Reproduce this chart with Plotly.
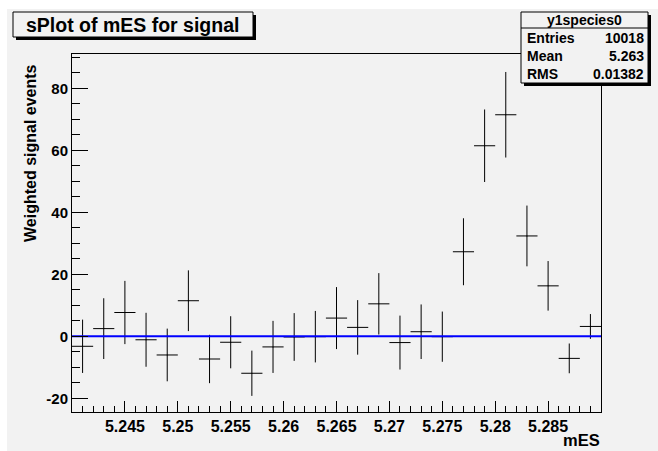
import plotly.graph_objects as go

# ---- data ----
mES_centers = [5.241, 5.243, 5.245, 5.247, 5.249, 5.251, 5.253, 5.255, 5.257, 5.259,
               5.261, 5.263, 5.265, 5.267, 5.269, 5.271, 5.273, 5.275, 5.277, 5.279,
               5.281, 5.283, 5.285, 5.287, 5.289]
weighted_signal = [-3.2, 2.5, 7.7, -1.1, -6.0, 11.5, -7.3, -1.9, -11.9, -3.4,
                   -0.2, -0.1, 5.9, 2.9, 10.5, -2.0, 1.5, -0.1, 27.3, 61.5,
                   71.5, 32.4, 16.3, -7.1, 3.2]
signal_errors = [8.6, 9.8, 10.2, 8.7, 8.5, 9.8, 7.8, 8.4, 7.3, 8.4,
                 7.7, 8.3, 10.0, 8.8, 9.9, 8.7, 8.8, 8.1, 10.8, 11.7,
                 13.8, 9.8, 8.0, 4.8, 4.0]
bin_width = 0.002
x_range = [5.24, 5.29]
y_range = [-24.4, 91.1]
x_tickvals = [5.245, 5.25, 5.255, 5.26, 5.265, 5.27, 5.275, 5.28, 5.285]
x_ticktext = ["5.245", "5.25", "5.255", "5.26", "5.265", "5.27", "5.275", "5.28", "5.285"]
y_tickvals = [-20, 0, 20, 40, 60, 80]
y_ticktext = ["-20", "0", "20", "40", "60", "80"]
fit_x = [5.24, 5.29]
fit_y = [0.0, 0.0]
stats_name = "y1species0"
stats_labels = ["Entries", "Mean", "RMS"]
stats_values = ["10018", "5.263", "0.01382"]
title_text = "sPlot of mES for signal"
x_title = "mES"
y_title = "Weighted signal events"

# ---- layout geometry (pixels) ----
W_PX, H_PX = 658, 451
L, R, T, B = 72, 57, 54, 39
PW = W_PX - L - R
PH = H_PX - T - B
FONT = "Liberation Sans, Arial, Helvetica, sans-serif"
BG = "#f2f2f2"


def px(x):
    return (x - L) / PW


def py(y):
    return (T + PH - y) / PH


fig = go.Figure()

fig.add_trace(go.Scatter(
    x=mES_centers, y=weighted_signal, mode="markers",
    marker=dict(size=1, color="black"),
    error_x=dict(type="constant", value=bin_width / 2, width=0, thickness=1, color="black"),
    error_y=dict(type="data", array=signal_errors, width=0, thickness=1, color="black"),
    showlegend=False, hoverinfo="skip"))

fig.add_trace(go.Scatter(
    x=fit_x, y=fit_y, mode="lines",
    line=dict(color="#0000ff", width=2),
    showlegend=False, hoverinfo="skip"))

shapes = []
# canvas grey background
shapes.append(dict(type="rect", xref="paper", yref="paper", layer="below",
                   x0=px(7), x1=px(W_PX), y0=py(9), y1=py(H_PX),
                   fillcolor=BG, line=dict(width=0)))
# title box with shadow
shapes.append(dict(type="rect", xref="paper", yref="paper", layer="above",
                   x0=px(16), x1=px(256), y0=py(15), y1=py(40),
                   fillcolor="black", line=dict(width=0)))
shapes.append(dict(type="rect", xref="paper", yref="paper", layer="above",
                   x0=px(13), x1=px(253), y0=py(12), y1=py(37),
                   fillcolor=BG, line=dict(color="black", width=1)))
# stats box with shadow
shapes.append(dict(type="rect", xref="paper", yref="paper", layer="above",
                   x0=px(524), x1=px(651), y0=py(15), y1=py(86),
                   fillcolor="black", line=dict(width=0)))
shapes.append(dict(type="rect", xref="paper", yref="paper", layer="above",
                   x0=px(521), x1=px(648), y0=py(12), y1=py(83),
                   fillcolor=BG, line=dict(color="black", width=1)))
shapes.append(dict(type="line", xref="paper", yref="paper", layer="above",
                   x0=px(521), x1=px(648), y0=py(28), y1=py(28),
                   line=dict(color="black", width=1)))

annotations = []
annotations.append(dict(text=title_text, xref="paper", yref="paper",
                        x=px(132), y=py(25), xanchor="center", yanchor="middle",
                        showarrow=False, font=dict(family=FONT, size=19.5, color="black", weight="bold")))
annotations.append(dict(text=stats_name, xref="paper", yref="paper",
                        x=px(584.5), y=py(20), xanchor="center", yanchor="middle",
                        showarrow=False, font=dict(family=FONT, size=14, color="black", weight="bold")))
row_y = [37.5, 55.5, 73.5]
for lab, val, yy in zip(stats_labels, stats_values, row_y):
    annotations.append(dict(text=lab, xref="paper", yref="paper",
                            x=px(525), y=py(yy), xanchor="left", yanchor="middle",
                            showarrow=False, font=dict(family=FONT, size=14, color="black", weight="bold")))
    annotations.append(dict(text=val, xref="paper", yref="paper",
                            x=px(646), y=py(yy), xanchor="right", yanchor="middle",
                            showarrow=False, font=dict(family=FONT, size=14, color="black", weight="bold")))
annotations.append(dict(text=x_title, xref="paper", yref="paper",
                        x=px(602), y=py(440), xanchor="right", yanchor="middle",
                        showarrow=False, font=dict(family=FONT, size=16.5, color="black", weight="bold")))
annotations.append(dict(text=y_title, xref="paper", yref="paper",
                        x=px(30), y=py(153), xanchor="center", yanchor="middle", textangle=-90,
                        showarrow=False, font=dict(family=FONT, size=16, color="black", weight="bold")))

fig.update_layout(
    width=W_PX, height=H_PX,
    margin=dict(l=L, r=R, t=T, b=B, pad=0),
    paper_bgcolor="white", plot_bgcolor=BG,
    shapes=shapes, annotations=annotations,
    showlegend=False,
    xaxis=dict(range=x_range, tickmode="array", tickvals=x_tickvals, ticktext=x_ticktext,
               ticks="inside", ticklen=11, tickwidth=1, tickcolor="black",
               minor=dict(tickmode="linear", tick0=5.24, dtick=0.001, ticks="inside",
                          ticklen=6, tickwidth=1, tickcolor="black", showgrid=False),
               showgrid=False, zeroline=False, showline=True, linecolor="black", linewidth=1,
               mirror=True,
               tickfont=dict(family=FONT, size=16, color="black", weight="bold")),
    yaxis=dict(range=y_range, tickmode="array", tickvals=y_tickvals, ticktext=y_ticktext,
               ticks="inside", ticklen=16, tickwidth=1, tickcolor="black",
               minor=dict(tickmode="linear", tick0=0, dtick=5, ticks="inside",
                          ticklen=8, tickwidth=1, tickcolor="black", showgrid=False),
               showgrid=False, zeroline=False, showline=True, linecolor="black", linewidth=1,
               mirror=True,
               tickfont=dict(family=FONT, size=15, color="black", weight="bold")),
)

fig.write_html("out.html")
